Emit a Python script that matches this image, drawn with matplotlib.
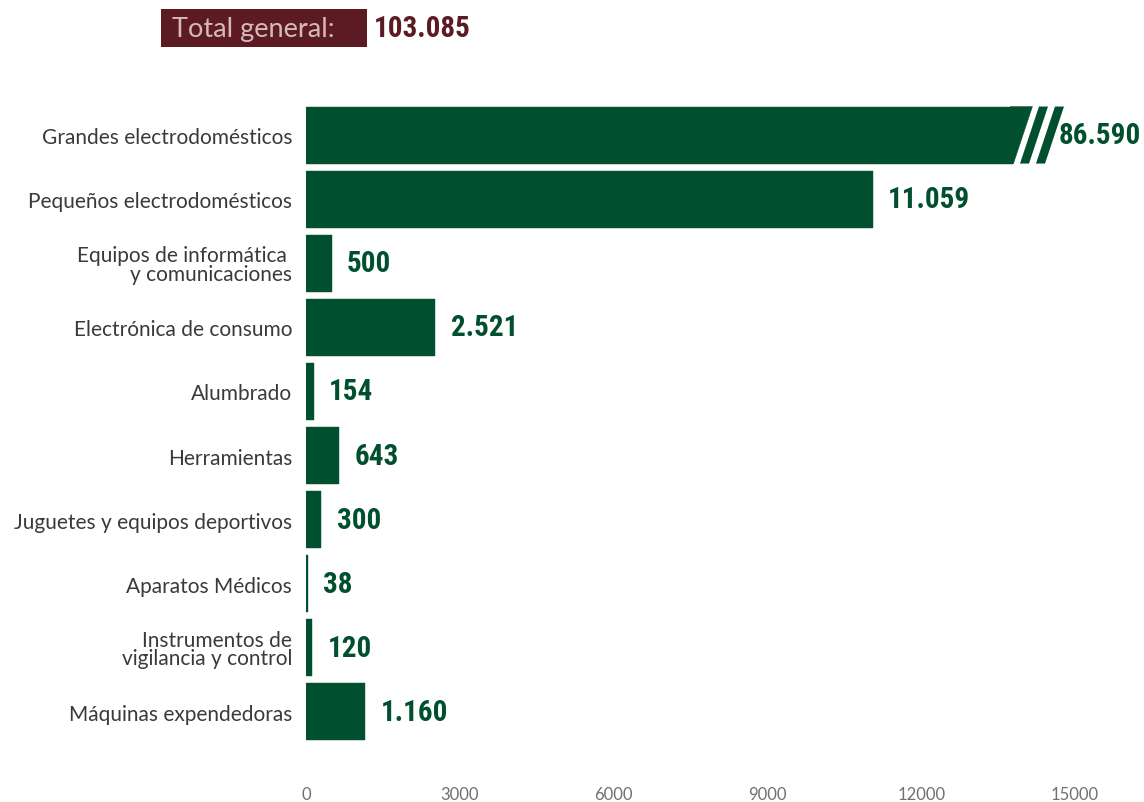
import matplotlib
matplotlib.use("Agg")
import matplotlib.pyplot as plt
from matplotlib.patches import Polygon, Rectangle

# Datos
categorias = [
    "Grandes electrodomésticos",
    "Pequeños electrodomésticos",
    "Equipos de informática \ny comunicaciones",
    "Electrónica de consumo",
    "Alumbrado",
    "Herramientas",
    "Juguetes y equipos deportivos",
    "Aparatos Médicos",
    "Instrumentos de\nvigilancia y control",
    "Máquinas expendedoras",
]
valores = [86590, 11059, 500, 2521, 154, 643, 300, 38, 120, 1160]
etiquetas = ["86.590", "11.059", "500", "2.521", "154", "643", "300", "38", "120", "1.160"]
total_texto = "103.085"
ticks_x = [0, 3000, 6000, 9000, 12000, 15000]

VERDE = "#00502F"
GRANATE = "#5C1B22"
GRIS = "#3A3A3A"
CORTE = 13800          # donde empieza el corte de la barra grande
INCL = 370             # inclinación de las rayas (unidades de datos)
COND = ["Liberation Sans Narrow", "Roboto Condensed", "DejaVu Sans Condensed", "Roboto"]

fig = plt.figure(figsize=(11.44, 8.03), dpi=100)
ax = fig.add_axes([0.2675, 0.0722, 0.6722, 0.7983])

alto = 0.89
y = list(range(len(categorias)))
mostrar = [min(v, CORTE) for v in valores]
ax.barh(y, mostrar, height=alto, color=VERDE, edgecolor=VERDE, linewidth=0.3)

# barra cortada: parte inclinada y dos rayas
i = 0
b, t = i + alto / 2, i - alto / 2
ax.add_patch(Polygon([(CORTE - 60, b), (CORTE, b), (CORTE + INCL, t), (CORTE - 60, t)],
                     closed=True, facecolor=VERDE, edgecolor=VERDE, lw=0.3))
for x0 in (CORTE + 127, CORTE + 439):
    ax.add_patch(Polygon([(x0, b), (x0 + 176, b), (x0 + 176 + INCL, t), (x0 + INCL, t)],
                         closed=True, color=VERDE, lw=0))

for k, (v, txt) in enumerate(zip(valores, etiquetas)):
    xpos = CORTE + 439 + 176 + INCL if v > CORTE else v
    ax.annotate(txt, xy=(xpos, k), xytext=(11 if v <= CORTE else -4, 0),
                textcoords="offset points", va="center", ha="left",
                fontsize=21, fontweight="bold", color=VERDE, family=COND,
                annotation_clip=False)

ax.set_xlim(0, 15000)
ax.set_ylim(len(categorias) - 0.5, -0.5)
ax.set_xticks(ticks_x)
ax.set_xticklabels([str(t) for t in ticks_x], family="Lato", fontweight="normal",
                   fontsize=12, color="#707070")
ax.set_yticks(y)
ax.set_yticklabels(categorias, family="Lato", fontsize=15, color=GRIS,
                   linespacing=0.9)
ax.tick_params(axis="both", length=0)
ax.tick_params(axis="x", pad=30)
ax.tick_params(axis="y", pad=10)
for s in ax.spines.values():
    s.set_visible(False)

# cabecera
fig.patches.append(Rectangle((161 / 1144, 1 - 48 / 803), 206 / 1144, 38 / 803,
                             transform=fig.transFigure, color=GRANATE, lw=0))
fig.text(172 / 1144, 1 - 29 / 803, "Total general:", family="Lato", fontsize=19.5,
         color="#D8B9BA", va="center", ha="left")
fig.text(374 / 1144, 1 - 29 / 803, total_texto, family=COND, fontsize=21,
         fontweight="bold", color=GRANATE, va="center", ha="left")

fig.savefig("out.png", dpi=100, facecolor="white")
